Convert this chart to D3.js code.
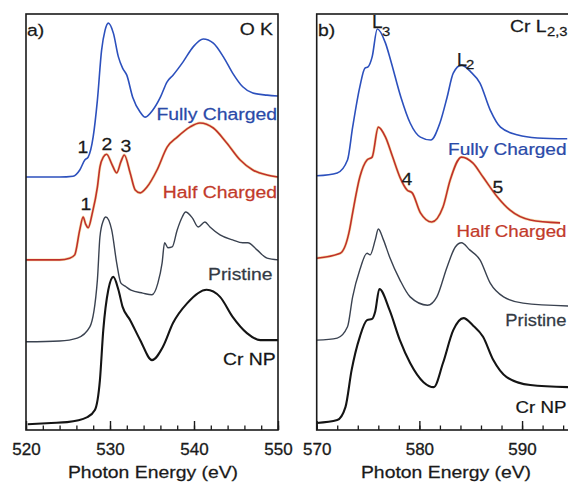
<!DOCTYPE html>
<html>
<head>
<meta charset="utf-8">
<script src="https://cdn.jsdelivr.net/npm/d3@7"></script>
<style>
  html, body { margin: 0; padding: 0; background: #fff; }
  svg { display: block; }
  text { font-family: "Liberation Sans", Arial, Helvetica, sans-serif; }
</style>
</head>
<body>
<svg id="chart" width="568" height="483"></svg>
<script>
// ---- O K-edge spectra: [photon energy (eV), stacked intensity (a.u.)] ----
const okFullyCharged = [[520,60.8],[524,60.8],[525.6,61.0],[526.4,62.5],[527.0,64.9],[527.4,65.6],[528.0,70.5],[528.5,79.3],[529.0,91.3],[529.4,96.0],[529.8,97.8],[530.4,95.4],[531.0,89.7],[531.5,87.0],[532.0,85.3],[532.7,80.0],[533.6,76.4],[534.2,75.2],[535.1,76.9],[536.0,80.0],[536.8,83.7],[537.5,85.3],[538.7,88.5],[539.9,92.1],[541.1,94.0],[542.3,93.0],[543.5,89.7],[544.6,85.8],[545.8,82.5],[547.0,81.0],[548.7,80.5],[550,80.3]];
const okHalfCharged = [[520,40.9],[524,40.9],[525.2,41.3],[525.8,42.1],[526.4,48.1],[526.8,51.2],[527.1,49.5],[527.4,48.6],[527.9,52.2],[528.5,58.4],[528.8,63.2],[529.2,65.6],[529.6,66.3],[530.2,64.0],[530.8,61.8],[531.3,64.5],[531.7,66.1],[532.4,61.8],[533.0,57.7],[533.6,57.0],[534.4,58.4],[535.6,62.5],[536.8,68.0],[538.0,70.4],[539.5,72.8],[540.7,73.8],[542.3,72.6],[543.9,69.0],[545.5,64.9],[547.0,62.5],[548.7,61.3],[550,60.8]];
const okPristine = [[520,21.2],[524,21.4],[526.1,22.1],[527.6,24.8],[528.5,36.1],[528.8,46.4],[529.2,50.3],[529.5,51.2],[530.2,48.1],[530.8,40.1],[531.3,35.3],[531.8,34.6],[532.5,33.6],[533.9,32.9],[535.0,32.5],[535.7,35.3],[536.2,40.1],[536.5,45.0],[536.9,43.8],[537.4,44.0],[538.0,48.1],[538.6,51.2],[539.0,52.4],[539.8,51.0],[540.5,48.8],[541.3,50.0],[541.9,48.8],[543.1,46.9],[544.6,45.7],[545.8,45.0],[546.4,45.0],[547.5,43.3],[548.7,41.3],[550,40.9]];
const okCrNP = [[520.2,1.4],[523,1.7],[524.9,1.9],[527.3,3.1],[528.2,4.8],[528.8,12.0],[529.2,24.0],[529.8,33.7],[530.4,36.8],[531.0,33.7],[531.5,29.6],[532.4,26.4],[533.6,21.6],[535.0,16.8],[536.3,20.0],[537.5,25.7],[539.2,30.5],[541.5,33.7],[543.1,32.0],[544.6,27.2],[546.3,23.3],[547.9,21.6],[550,21.6]];

// ---- Cr L2,3-edge spectra ----
const crFullyCharged = [[570,61.1],[572.0,61.8],[573.0,64.9],[573.5,72.8],[574.2,82.5],[574.7,87.0],[575.0,87.3],[575.4,89.7],[575.9,96.4],[576.7,93.0],[577.2,88.9],[578.2,80.0],[579.1,73.8],[580.1,70.4],[581.1,69.7],[582.0,73.8],[582.7,80.0],[583.3,85.8],[584.1,87.7],[585.0,86.1],[585.9,83.4],[586.9,76.9],[587.9,72.8],[589.6,70.9],[591.5,70.2],[594.4,70.0]];
const crHalfCharged = [[570,41.3],[572.3,42.5],[573.2,48.1],[573.5,52.2],[574.2,60.8],[574.9,64.9],[575.4,65.6],[576.0,72.8],[576.7,70.4],[577.4,65.6],[578.1,60.8],[578.8,57.7],[579.3,57.0],[580.1,52.2],[581.2,50.0],[582.3,53.6],[583.0,60.1],[584.1,65.6],[585.2,64.2],[586.2,60.8],[587.6,56.0],[588.8,52.9],[590.8,50.5],[593.7,49.8]];
const crPristine = [[570,21.6],[572.0,22.1],[573.0,24.8],[573.5,32.0],[574.2,38.5],[574.9,42.5],[575.2,42.1],[575.7,45.7],[576.0,48.3],[576.5,45.7],[577.1,41.6],[578.1,36.1],[579.1,32.0],[580.8,30.0],[581.7,32.0],[582.7,39.2],[583.5,44.0],[584.1,45.0],[584.9,43.3],[585.9,40.9],[586.9,35.3],[588.2,32.0],[590.1,30.5],[594.5,29.8]];
const crCrNP = [[570,1.7],[572.0,2.4],[572.8,5.5],[573.4,14.4],[574.2,22.4],[574.9,26.4],[575.4,26.7],[575.7,28.5],[576.1,33.9],[577.1,28.8],[578.1,21.6],[579.1,16.1],[580.4,11.5],[581.4,10.3],[582.3,16.1],[583.3,24.0],[584.3,26.9],[585.2,25.2],[586.2,22.4],[587.2,16.8],[588.5,12.7],[590.8,10.8],[594.5,10.3]];

// ---- axis ticks ----
const okTicks = [520, 530, 540, 550];
const crTicks = [570, 580, 590];
const okMinorTicks = d3.range(520, 551, 2);
const crMinorTicks = d3.range(570, 596, 2);

const colors = { fully: "#2c50bd", half: "#c0302a", pristine: "#3a4250", crnp: "#141414" };
const textColors = { fully: "#2a4aa8", half: "#c23a2a", pristine: "#333a44", crnp: "#151515" };

const svg = d3.select("#chart");
const plotTop = 14, plotBottom = 430;
const y = d3.scaleLinear().domain([0, 100]).range([plotBottom, plotTop]);
const xA = d3.scaleLinear().domain([520, 550]).range([26, 278]);
const xB = d3.scaleLinear().domain([570, 595]).range([316.7, 573.4]);
const stretch = 1.14;

function label(g, x, yy, str, opts = {}) {
  return g.append("text")
    .attr("transform", `translate(${x},${yy}) scale(${opts.sx || stretch},1)`)
    .attr("text-anchor", opts.anchor || "start")
    .attr("font-size", opts.size || 17)
    .attr("fill", opts.color || "#1a1a1a")
    .attr("stroke", opts.color || "#1a1a1a")
    .attr("stroke-width", 0.25)
    .text(str);
}

function panel(x, ticks, minor, series) {
  const g = svg.append("g");
  const [x0, x1] = x.range();
  // spectra
  series.forEach(s => {
    const line = d3.line().x(d => x(d[0])).y(d => y(d[1])).curve(d3.curveMonotoneX);
    if (s.halo) {
      g.append("path").datum(s.data).attr("d", line)
        .attr("fill", "none").attr("stroke", s.halo).attr("stroke-width", 2.8)
        .attr("stroke-opacity", 0.45);
    }
    g.append("path").datum(s.data).attr("d", line)
      .attr("fill", "none").attr("stroke", s.color).attr("stroke-width", s.width)
      .attr("stroke-linejoin", "round");
  });
  // frame
  g.append("rect").attr("x", x0).attr("y", plotTop).attr("width", x1 - x0).attr("height", plotBottom - plotTop)
    .attr("fill", "none").attr("stroke", "#1a1a1a").attr("stroke-width", 1.6);
  // minor ticks (inward)
  const minorAxis = d3.axisBottom(x).tickValues(minor).tickSize(-4.5).tickFormat("");
  const gm = g.append("g").attr("transform", `translate(0,${plotBottom})`).call(minorAxis);
  gm.select(".domain").remove();
  gm.selectAll("line").attr("stroke", "#1a1a1a").attr("stroke-width", 1.3);
  // major ticks with labels
  const majorAxis = d3.axisBottom(x).tickValues(ticks).tickSize(-9).tickPadding(13).tickFormat(d3.format("d"));
  const ga = g.append("g").attr("transform", `translate(0,${plotBottom})`).call(majorAxis);
  ga.select(".domain").remove();
  ga.selectAll("line").attr("stroke", "#1a1a1a").attr("stroke-width", 1.4);
  ga.selectAll("text").attr("font-size", 17).attr("fill", "#1a1a1a")
    .attr("font-family", "'Liberation Sans', Arial, sans-serif")
    .attr("stroke", "#1a1a1a").attr("stroke-width", 0.3);
  return g;
}

// panel a) O K edge
const gA = panel(xA, okTicks, okMinorTicks, [
  { data: okCrNP, color: colors.crnp, width: 2.1 },
  { data: okPristine, color: colors.pristine, width: 1.4 },
  { data: okHalfCharged, color: colors.half, width: 1.6, halo: "#e6b84a" },
  { data: okFullyCharged, color: colors.fully, width: 1.6 }
]);
label(gA, 27, 36, "a)", { size: 17 });
label(gA, 273, 35, "O K", { anchor: "end", size: 17 });
label(gA, 277, 120, "Fully Charged", { anchor: "end", color: textColors.fully });
label(gA, 277, 198, "Half Charged", { anchor: "end", color: textColors.half });
label(gA, 208, 280, "Pristine", { color: textColors.pristine });
label(gA, 223, 365, "Cr NP", { color: textColors.crnp });
label(gA, 83, 153, "1", { anchor: "middle" });
label(gA, 107, 150, "2", { anchor: "middle" });
label(gA, 126, 152, "3", { anchor: "middle" });
label(gA, 86, 210, "1", { anchor: "middle" });
label(gA, 153, 478, "Photon Energy (eV)", { anchor: "middle", size: 17 });

// panel b) Cr L2,3 edge
const gB = panel(xB, crTicks, crMinorTicks, [
  { data: crCrNP, color: colors.crnp, width: 2.1 },
  { data: crPristine, color: colors.pristine, width: 1.4 },
  { data: crHalfCharged, color: colors.half, width: 1.6, halo: "#e6b84a" },
  { data: crFullyCharged, color: colors.fully, width: 1.6 }
]);
label(gB, 318, 36, "b)", { size: 17 });
label(gB, 510, 32, "Cr L", { size: 17 });
label(gB, 547, 36, "2,3", { size: 13 });
label(gB, 372, 28, "L", { size: 19, sx: 1.0 });
label(gB, 382, 36, "3", { size: 13 });
label(gB, 457, 66, "L", { size: 18, sx: 1.0 });
label(gB, 466, 69, "2", { size: 13 });
// right-hand labels kept just inside the visible width
label(gB, 566.5, 155, "Fully Charged", { anchor: "end", color: textColors.fully, sx: 1.12 });
label(gB, 566.5, 237, "Half Charged", { anchor: "end", color: textColors.half, sx: 1.1 });
label(gB, 566.5, 326, "Pristine", { anchor: "end", color: textColors.pristine, sx: 1.08 });
label(gB, 566.5, 413, "Cr NP", { anchor: "end", color: textColors.crnp, sx: 1.1 });
label(gB, 407, 185, "4", { anchor: "middle" });
label(gB, 498, 193, "5", { anchor: "middle" });
label(gB, 446, 478, "Photon Energy (eV)", { anchor: "middle", size: 17 });
</script>
</body>
</html>
